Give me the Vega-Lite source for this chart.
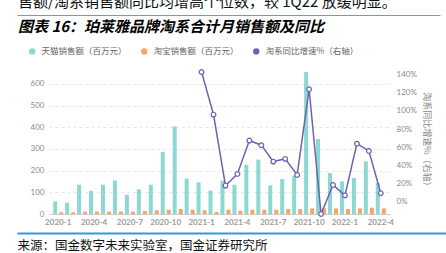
{
  "$schema": "https://vega.github.io/schema/vega-lite/v6.json",
  "width": 341,
  "height": 142,
  "autosize": {"type": "none"},
  "padding": {"left": 49, "top": 72, "right": 56, "bottom": 39},
  "background": "white",
  "config": {
    "view": {"stroke": null},
    "font": "Noto Sans CJK SC"
  },
  "title": {
    "text": "售额/淘系销售额同比均增高个位数，较 1Q22 放缓明显。",
    "subtitle": "图表 16：珀莱雅品牌淘系合计月销售额及同比",
    "anchor": "start",
    "frame": "group",
    "orient": "top",
    "font": "Noto Sans CJK SC",
    "fontSize": 15,
    "fontWeight": "normal",
    "color": "#111111",
    "subtitleFont": "Noto Sans CJK SC",
    "subtitleFontSize": 15,
    "subtitleFontWeight": "bold",
    "subtitleFontStyle": "italic",
    "subtitleColor": "#000000",
    "subtitlePadding": 10,
    "offset": 0,
    "dx": -31,
    "dy": 20
  },
  "resolve": {"scale": {"x": "independent"}, "axis": {"x": "independent"}},
  "layer": [
    {
      "data": {
        "values": [
          {"month": "2020-1", "天猫销售额（百万元）": 58, "淘宝销售额（百万元）": 8, "yoy": null},
          {"month": "2020-2", "天猫销售额（百万元）": 52, "淘宝销售额（百万元）": 8, "yoy": null},
          {"month": "2020-3", "天猫销售额（百万元）": 135, "淘宝销售额（百万元）": 11, "yoy": null},
          {"month": "2020-4", "天猫销售额（百万元）": 107, "淘宝销售额（百万元）": 11, "yoy": null},
          {"month": "2020-5", "天猫销售额（百万元）": 135, "淘宝销售额（百万元）": 11, "yoy": null},
          {"month": "2020-6", "天猫销售额（百万元）": 155, "淘宝销售额（百万元）": 11, "yoy": null},
          {"month": "2020-7", "天猫销售额（百万元）": 89, "淘宝销售额（百万元）": 11, "yoy": null},
          {"month": "2020-8", "天猫销售额（百万元）": 114, "淘宝销售额（百万元）": 14, "yoy": null},
          {"month": "2020-9", "天猫销售额（百万元）": 135, "淘宝销售额（百万元）": 17, "yoy": null},
          {"month": "2020-10", "天猫销售额（百万元）": 287, "淘宝销售额（百万元）": 20, "yoy": null},
          {"month": "2020-11", "天猫销售额（百万元）": 404, "淘宝销售额（百万元）": 23, "yoy": null},
          {"month": "2020-12", "天猫销售额（百万元）": 163, "淘宝销售额（百万元）": 20, "yoy": null},
          {"month": "2021-1", "天猫销售额（百万元）": 146, "淘宝销售额（百万元）": 17, "yoy": 143},
          {"month": "2021-2", "天猫销售额（百万元）": 108, "淘宝销售额（百万元）": 9, "yoy": 96},
          {"month": "2021-3", "天猫销售额（百万元）": 154, "淘宝销售额（百万元）": 20, "yoy": 17.7},
          {"month": "2021-4", "天猫销售额（百万元）": 135, "淘宝销售额（百万元）": 15, "yoy": 30.6},
          {"month": "2021-5", "天猫销售额（百万元）": 227, "淘宝销售额（百万元）": 20, "yoy": 67.4},
          {"month": "2021-6", "天猫销售额（百万元）": 251, "淘宝销售额（百万元）": 20, "yoy": 62.3},
          {"month": "2021-7", "天猫销售额（百万元）": 132, "淘宝销售额（百万元）": 20, "yoy": 44.2},
          {"month": "2021-8", "天猫销售额（百万元）": 161, "淘宝销售额（百万元）": 23, "yoy": 47.2},
          {"month": "2021-9", "天猫销售额（百万元）": 177, "淘宝销售额（百万元）": 23, "yoy": 29.5},
          {"month": "2021-10", "天猫销售额（百万元）": 655, "淘宝销售额（百万元）": 26, "yoy": 124},
          {"month": "2021-11", "天猫销售额（百万元）": 346, "淘宝销售额（百万元）": 26, "yoy": -13.6},
          {"month": "2021-12", "天猫销售额（百万元）": 189, "淘宝销售额（百万元）": 26, "yoy": 18.5},
          {"month": "2022-1", "天猫销售额（百万元）": 150, "淘宝销售额（百万元）": 23, "yoy": 7},
          {"month": "2022-2", "天猫销售额（百万元）": 166, "淘宝销售额（百万元）": 26, "yoy": 64},
          {"month": "2022-3", "天猫销售额（百万元）": 243, "淘宝销售额（百万元）": 29, "yoy": 56},
          {"month": "2022-4", "天猫销售额（百万元）": 143, "淘宝销售额（百万元）": 26, "yoy": 9.3}
        ]
      },
      "encoding": {
        "x": {
          "field": "month",
          "type": "nominal",
          "sort": null,
          "scale": {"paddingInner": 0, "paddingOuter": 0.27},
          "axis": {
            "values": ["2020-1", "2020-4", "2020-7", "2020-10", "2021-1", "2021-4", "2021-7", "2021-10", "2022-1", "2022-4"],
            "labelAngle": 0,
            "labelFont": "Lato",
            "labelFontSize": 8,
            "labelFontWeight": "bold",
            "labelColor": "#9a9a9a",
            "labelPadding": 4,
            "ticks": false,
            "domainColor": "#cccccc",
            "grid": false,
            "title": "来源：国金数字未来实验室，国金证券研究所",
            "titleFont": "Noto Sans CJK SC",
            "titleFontSize": 12.5,
            "titleFontWeight": "normal",
            "titleColor": "#111111",
            "titleAnchor": "start",
            "titleAlign": "left",
            "titleBaseline": "middle",
            "titleX": -32,
            "titleY": 31
          }
        }
      },
      "resolve": {"scale": {"y": "independent"}},
      "layer": [
        {
          "transform": [
            {"fold": ["天猫销售额（百万元）", "淘宝销售额（百万元）"], "as": ["series", "value"]}
          ],
          "mark": {"type": "bar"},
          "encoding": {
            "xOffset": {
              "field": "series",
              "type": "nominal",
              "sort": ["天猫销售额（百万元）", "淘宝销售额（百万元）"],
              "scale": {"paddingInner": 0.333, "paddingOuter": 0.16}
            },
            "y": {
              "field": "value",
              "type": "quantitative",
              "scale": {"domain": [0, 655], "nice": false, "zero": true},
              "axis": {
                "values": [0, 100, 200, 300, 400, 500, 600],
                "labelFont": "Lato",
                "labelFontSize": 8,
                "labelColor": "#8a8a8a",
                "labelPadding": 5,
                "ticks": false,
                "domain": false,
                "grid": true,
                "gridColor": "#e6e6e6",
                "gridDash": [3, 3],
                "title": null
              }
            },
            "color": {
              "field": "series",
              "type": "nominal",
              "scale": {
                "domain": ["天猫销售额（百万元）", "淘宝销售额（百万元）", "淘系同比增速%（右轴）"],
                "range": ["#8dd8d3", "#f5a46c", "#6b62b2"]
              },
              "legend": {
                "orient": "none",
                "direction": "horizontal",
                "legendX": -21,
                "legendY": -25,
                "padding": 0,
                "title": null,
                "symbolType": "circle",
                "symbolSize": 40,
                "symbolStrokeWidth": 0,
                "labelFont": "Noto Sans CJK SC",
                "labelFontSize": 8.5,
                "labelColor": "#666666",
                "labelOffset": 5,
                "columnPadding": 13
              }
            }
          }
        },
        {
          "transform": [{"filter": "datum.yoy != null"}],
          "mark": {
            "type": "line",
            "color": "#6b62b2",
            "strokeWidth": 1.5,
            "point": {"filled": true, "fill": "white", "stroke": "#6b62b2", "strokeWidth": 1.2, "size": 22}
          },
          "encoding": {
            "y": {
              "field": "yoy",
              "type": "quantitative",
              "scale": {"domain": [-13.6, 143], "nice": false, "zero": false},
              "axis": {
                "orient": "right",
                "values": [0, 20, 40, 60, 80, 100, 120, 140],
                "labelExpr": "datum.value + '%'",
                "labelFont": "Lato",
                "labelFontSize": 8,
                "labelColor": "#8a8a8a",
                "labelPadding": 6,
                "ticks": false,
                "domain": false,
                "grid": false,
                "title": "淘系同比增速%（右轴）",
                "titleFont": "Noto Sans CJK SC",
                "titleFontSize": 9,
                "titleFontWeight": "normal",
                "titleColor": "#8a8a8a",
                "titleAngle": 90,
                "titleAlign": "center",
                "titleBaseline": "middle",
                "titleX": 36,
                "titleY": 69
              }
            }
          }
        }
      ]
    },
    {
      "data": {"values": [{}]},
      "mark": {"type": "point", "opacity": 0},
      "encoding": {
        "x": {
          "datum": 0,
          "type": "quantitative",
          "scale": {"domain": [0, 1], "range": [-32, 397]},
          "axis": {
            "orient": "bottom",
            "offset": 19,
            "domainColor": "#2f9ae4",
            "domainWidth": 2,
            "labels": false,
            "ticks": false,
            "grid": false,
            "title": null
          }
        }
      }
    },
    {
      "data": {"values": [{}]},
      "mark": {"type": "point", "opacity": 0},
      "encoding": {
        "x": {
          "datum": 0,
          "type": "quantitative",
          "scale": {"domain": [0, 1], "range": [-32, 391]},
          "axis": {
            "orient": "top",
            "offset": 57,
            "domainColor": "#4aa8e6",
            "domainWidth": 1.2,
            "labels": false,
            "ticks": false,
            "grid": false,
            "title": null
          }
        }
      }
    }
  ]
}
